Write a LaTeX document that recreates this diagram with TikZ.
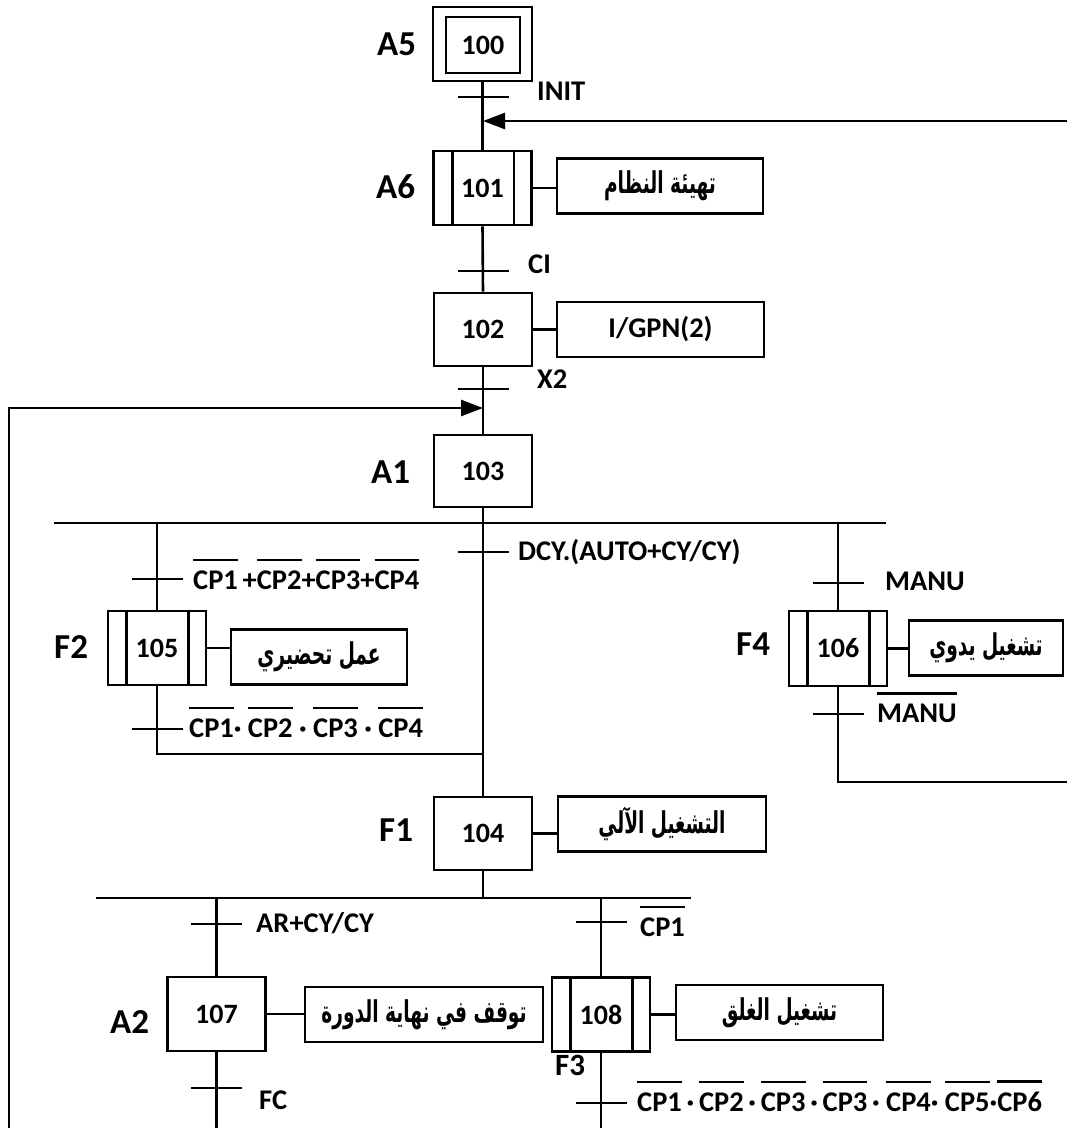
\documentclass[tikz,border=0pt]{standalone}
\usepackage{fontspec}
\setmainfont{Carlito}
\newfontfamily\arabicfont[Script=Arabic, FakeStretch=0.62]{DejaVu Sans Bold}
\usetikzlibrary{arrows.meta}
\TeXXeTstate=1
\newcommand\ovl[1]{\vbox{\hrule height 2.3pt\kern 9pt\hbox{#1}}}
\newcommand\artxt[1]{{\arabicfont\beginR #1\endR}}
\tikzset{
  gstep/.style={draw, line width=2.6pt, minimum width=98pt, minimum height=74pt, inner sep=0pt, font=\fontsize{28}{32}\selectfont\bfseries},
  act/.style={draw, line width=2.6pt, minimum height=55pt, inner sep=0pt, font=\fontsize{30}{34}\selectfont},
  slbl/.style={anchor=base west, inner sep=0pt, font=\fontsize{35}{40}\selectfont\bfseries},
  tlbl/.style={anchor=base west, inner sep=0pt, font=\fontsize{28.5}{32}\selectfont\bfseries},
  link/.style={line width=2.6pt},
  arr/.style={line width=2.6pt, -{Triangle[length=22pt,width=16pt]}}
}
\begin{document}
\begin{tikzpicture}[x=1pt,y=-1pt]
\useasboundingbox (0,0) rectangle (1067,1128);
% ---------- steps ----------
\node[gstep, minimum width=99pt, minimum height=74pt] (s100o) at (482.5,44) {};
\node[gstep, minimum width=74pt, minimum height=56pt] (s100) at (483,45) {100};
\node[gstep] (s101) at (482.5,188) {101};
\node[gstep, minimum height=73pt] (s102) at (483,329.5) {102};
\node[gstep, minimum height=72pt] (s103) at (483,471) {103};
\node[gstep] (s105) at (157,648) {105};
\node[gstep, minimum height=75pt] (s106) at (838,648.5) {106};
\node[gstep, minimum height=73pt] (s104) at (483,833.5) {104};
\node[gstep] (s107) at (216.5,1014) {107};
\node[gstep] (s108) at (601,1014.5) {108};
% macro-step inner bars
\foreach \s in {s101,s105,s106,s108}{
  \draw[link] ([xshift=20pt]\s.north west) -- ([xshift=20pt]\s.south west);
  \draw[link] ([xshift=-19pt]\s.north east) -- ([xshift=-19pt]\s.south east);
}
% ---------- step labels ----------
\node[slbl] (lA5) at (377,55) {A5};
\node[slbl] (lA6) at (376,198) {A6};
\node[slbl] (lA1) at (371,483) {A1};
\node[slbl] (lF2) at (54,658) {F2};
\node[slbl] (lF4) at (736,655) {F4};
\node[slbl] (lF1) at (379,841) {F1};
\node[slbl] (lA2) at (110,1033) {A2};
\node[slbl, font=\fontsize{31}{36}\selectfont\bfseries] (lF3) at (555,1075) {F3};
% ---------- actions ----------
\node[act, minimum width=206pt] (a101) at (660,186) {\artxt{تهيئة النظام}};
\node[act, minimum width=207pt, font=\fontsize{28.5}{32}\selectfont\bfseries] (a102) at (660.5,329.5) {I/GPN(2)};
\node[act, minimum width=176pt] (a105) at (319,657) {\artxt{عمل تحضيري}};
\node[act, minimum width=154pt] (a106) at (986,648) {\artxt{تشغيل يدوي}};
\node[act, minimum width=208pt] (a104) at (662,824) {\artxt{التشغيل الآلي}};
\node[act, minimum width=238pt] (a107) at (424,1014.5) {\artxt{توقف في نهاية الدورة}};
\node[act, minimum width=207pt] (a108) at (779.5,1012.5) {\artxt{تشغيل الغلق}};
\foreach \s/\a in {s101/a101,s102/a102,s105/a105,s106/a106,s104/a104,s107/a107,s108/a108}{
  \draw[link] (\s.east) -- (\s.east -| \a.west);
}
% ---------- coordinates ----------
\coordinate (tINIT) at (483,97);
\coordinate (jTop) at (483,121);
\coordinate (rTop) at (1067,121);
\coordinate (tCI) at (483,271);
\coordinate (tX2) at (483,389);
\coordinate (jLoop) at (483,408);
\coordinate (lLoopTop) at (9,408);
\coordinate (lLoopBot) at (9,1128);
\coordinate (bar1L) at (54,523);
\coordinate (bar1R) at (886,523);
\coordinate (bar1M) at (483,523);
\coordinate (tDCY) at (483,552);
\coordinate (b105) at (157,523);
\coordinate (t105a) at (157,579);
\coordinate (t105b) at (157,729);
\coordinate (c105) at (157,754);
\coordinate (j105) at (483,754);
\coordinate (b106) at (838,523);
\coordinate (t106a) at (838,583);
\coordinate (t106b) at (838,714);
\coordinate (c106) at (838,782);
\coordinate (r106) at (1067,782);
\coordinate (bar2L) at (96,898);
\coordinate (bar2R) at (691,898);
\coordinate (bar2M) at (483,898);
\coordinate (b107) at (216.5,898);
\coordinate (tAR) at (216.5,924);
\coordinate (tFC) at (216.5,1088);
\coordinate (e107) at (216.5,1128);
\coordinate (b108) at (601,898);
\coordinate (tCP1) at (601,922);
\coordinate (tLast) at (601,1103);
\coordinate (e108) at (601,1128);
% ---------- links ----------
\draw[link] (s100o.south) -- (s101.north);
\draw[arr] (rTop) -- (jTop);
\draw[link] (s101.south) -- (s102.north);
\draw[link] (s102.south) -- (s103.north);
\draw[arr] (lLoopBot) -- (lLoopTop) -- (jLoop);
\draw[link] (s103.south) -- (bar1M);
\draw[link] (bar1L) -- (bar1R);
\draw[link] (bar1M) -- (s104.north);
\draw[link] (b105) -- (s105.north);
\draw[link] (s105.south) -- (c105) -- (j105);
\draw[link] (b106) -- (s106.north);
\draw[link] (s106.south) -- (c106) -- (r106);
\draw[link] (s104.south) -- (bar2M);
\draw[link] (bar2L) -- (bar2R);
\draw[link] (b107) -- (s107.north);
\draw[link] (s107.south) -- (e107);
\draw[link] (b108) -- (s108.north);
\draw[link] (s108.south) -- (e108);
% ---------- transition ticks ----------
\foreach \t in {tINIT,tCI,tX2,tDCY,t105a,t105b,t106a,t106b,tAR,tFC,tCP1,tLast}{
  \draw[link] ([xshift=-25.5pt]\t) -- ([xshift=25.5pt]\t);
}
% ---------- transition labels ----------
\node[tlbl] (cINIT) at (537,100) {INIT};
\node[tlbl] (cCI) at (528,273) {CI};
\node[tlbl] (cX2) at (537,388) {X2};
\node[tlbl] (cDCY) at (518,560) {DCY.(AUTO+CY/CY)};
\node[tlbl] (c105a) at (193,589) {\ovl{CP1}\,+\ovl{CP2}+\ovl{CP3}+\ovl{CP4}};
\node[tlbl] (c105b) at (189,737) {\ovl{CP1}·\ \ovl{CP2} · \ovl{CP3} · \ovl{CP4}};
\node[tlbl] (c106a) at (885,590) {MANU};
\node[tlbl] (c106b) at (877,722) {\ovl{MANU}};
\node[tlbl] (cAR) at (256,932) {AR+CY/CY};
\node[tlbl] (cFC) at (259,1109) {FC};
\node[tlbl] (cCP1) at (640,936) {\ovl{CP1}};
\node[tlbl] (cLast) at (637,1111) {\ovl{CP1}\,·\,\ovl{CP2}\,·\,\ovl{CP3}\,·\,\ovl{CP3}\,·\ \ovl{CP4}·\ \ovl{CP5}·\ovl{CP6}};
\end{tikzpicture}
\end{document}
